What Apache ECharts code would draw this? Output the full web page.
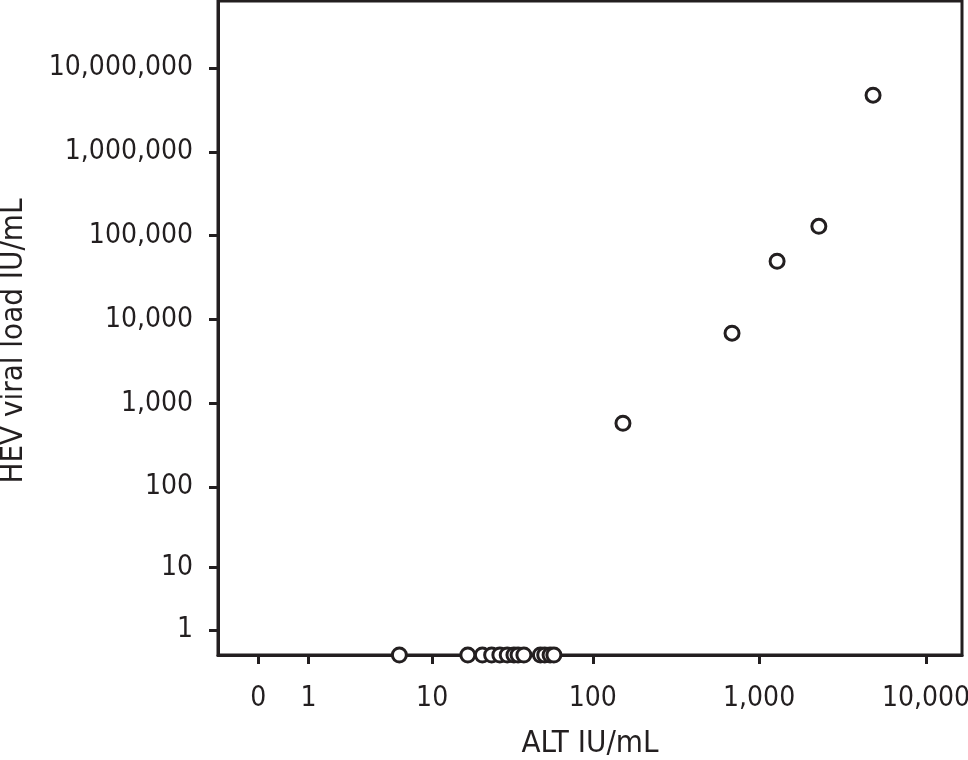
<!DOCTYPE html>
<html>
<head>
<meta charset="utf-8">
<title>HEV viral load vs ALT</title>
<script src="https://cdn.jsdelivr.net/npm/echarts@6/dist/echarts.min.js"></script>
<style>
  html, body { margin: 0; padding: 0; background: #fff; }
  #chart { width: 968px; height: 760px; }
</style>
</head>
<body>
<div id="chart"></div>
<script>
// ALT (IU/mL) and HEV viral load (IU/mL) per patient
var altValues = [6, 17, 21, 24, 27, 30, 33, 35, 38, 48, 51, 55, 58, 152, 688, 1282, 2281, 4820]
var hevValues = [0, 0, 0, 0, 0, 0, 0, 0, 0, 0, 0, 0, 0, 579, 6870, 49550, 129400, 4730000]

var xTickValues = [0, 1, 10, 100, 1000, 10000]
var xTickLabels = ['0', '1', '10', '100', '1,000', '10,000']
var yTickValues = [1, 10, 100, 1000, 10000, 100000, 1000000, 10000000]
var yTickLabels = ['1', '10', '100', '1,000', '10,000', '100,000', '1,000,000', '10,000,000']

// axes are log10(value + 1)
function toT(v) {
  return Math.log10(v + 1)
}

function labelFor(values, labels) {
  return function(v) {
    for (var i = 0; i < values.length; i++) {
      if (Math.abs(toT(values[i]) - v) < 1e-6) {
        return labels[i]
      }
    }
    return ''
  }
}

var points = []
for (var i = 0; i < altValues.length; i++) {
  points.push([toT(altValues[i]), toT(hevValues[i])])
}

var ink = '#231f20'
var font = "'DejaVu Sans Condensed', 'Liberation Sans Narrow', sans-serif"
var fontSize = 28
var titleSize = 31

var chart = echarts.init(document.getElementById('chart'))
chart.setOption({
  animation: false,
  grid: {
    left: 218,
    right: 6,
    top: 1,
    bottom: 105,
    show: true,
    borderColor: ink,
    borderWidth: 3,
    containLabel: false,
    outerBoundsMode: 'none'
  },
  xAxis: {
    type: 'value',
    min: -0.2415,
    max: 4.216,
    name: 'ALT IU/mL',
    nameLocation: 'middle',
    nameGap: 73,
    nameTextStyle: { color: ink, fontSize: titleSize, fontFamily: font },
    axisLine: { show: true, onZero: false, lineStyle: { color: ink, width: 3 } },
    axisTick: {
      show: true,
      length: 9,
      lineStyle: { color: ink, width: 3 },
      customValues: xTickValues.map(toT)
    },
    axisLabel: {
      color: ink,
      fontSize: fontSize,
      fontFamily: font,
      margin: 30,
      customValues: xTickValues.map(toT),
      formatter: labelFor(xTickValues, xTickLabels)
    },
    splitLine: { show: false }
  },
  yAxis: {
    type: 'value',
    min: 0,
    max: 7.798,
    name: 'HEV viral load IU/mL',
    nameLocation: 'middle',
    nameRotate: 90,
    nameGap: 189,
    nameTextStyle: { color: ink, fontSize: titleSize, fontFamily: font, padding: [0, 26, 0, 0] },
    axisLine: { show: true, onZero: false, lineStyle: { color: ink, width: 3 } },
    axisTick: {
      show: true,
      length: 9,
      lineStyle: { color: ink, width: 3 },
      customValues: yTickValues.map(toT)
    },
    axisLabel: {
      color: ink,
      fontSize: fontSize,
      fontFamily: font,
      margin: 25,
      customValues: yTickValues.map(toT),
      formatter: labelFor(yTickValues, yTickLabels)
    },
    splitLine: { show: false }
  },
  series: [{
    type: 'scatter',
    data: points,
    symbol: 'circle',
    symbolSize: 14,
    clip: false,
    itemStyle: {
      color: '#fff',
      borderColor: ink,
      borderWidth: 3,
      opacity: 1
    }
  }]
})
</script>
</body>
</html>
